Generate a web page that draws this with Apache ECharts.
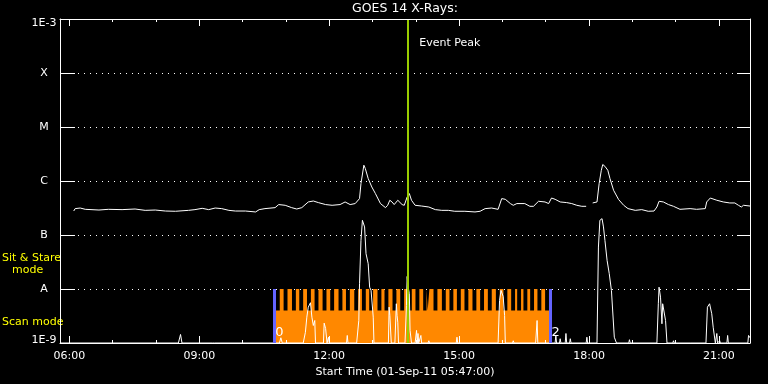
<!DOCTYPE html>
<html><head><meta charset="utf-8">
<script src="https://cdn.jsdelivr.net/npm/echarts@6/dist/echarts.min.js"></script>
<style>html,body{margin:0;padding:0;background:#000}#c{width:768px;height:384px}</style>
</head><body><div id="c"></div>
<script>
// ---------------- data ----------------
const chartTitle = 'GOES 14 X-Rays:';
const xAxisName = 'Start Time (01-Sep-11 05:47:00)';
const axisStart = '05:47';
const axisEnd = '21:43';
const majorTickLabels = ['06:00','09:00','12:00','15:00','18:00','21:00'];
const minorTickTimes = ['06:00','07:00','08:00','09:00','10:00','11:00','12:00','13:00','14:00','15:00','16:00','17:00','18:00','19:00','20:00','21:00'];
const levelValues = [1e-9,1e-8,1e-7,1e-6,1e-5,1e-4,1e-3];
const levelLabels = ['1E-9','A','B','C','M','X','1E-3'];

// GOES long channel (upper white curve): [time, flux W/m^2]
const longChannel = [
['06:06',2.78e-7],['06:08',3.08e-7],['06:15',3.16e-7],['06:22',2.99e-7],['06:41',2.90e-7],['06:54',2.99e-7],
['07:13',2.95e-7],['07:31',3.03e-7],['07:45',2.86e-7],['07:59',2.90e-7],['08:13',2.78e-7],['08:27',2.75e-7],
['08:45',2.86e-7],['08:54',2.95e-7],['09:04',3.12e-7],['09:13',2.95e-7],['09:22',3.16e-7],['09:31',3.08e-7],
['09:41',2.86e-7],['09:50',2.78e-7],['10:04',2.78e-7],['10:18',2.67e-7],['10:23',2.95e-7],['10:31',3.08e-7],
['10:45',3.21e-7],['10:50',3.66e-7],['10:59',3.55e-7],['11:08',3.21e-7],['11:15',3.03e-7],['11:22',3.21e-7],
['11:31',4.09e-7],['11:38',4.26e-7],['11:45',3.98e-7],['11:55',3.66e-7],['12:04',3.55e-7],['12:15',3.66e-7],
['12:22',4.09e-7],['12:29',3.66e-7],['12:36',3.82e-7],['12:42',4.72e-7],['12:44',8.98e-7],['12:48',1.96e-6],
['12:50',1.70e-6],['12:54',1.11e-6],['12:59',7.75e-7],['13:04',5.85e-7],['13:11',3.82e-7],['13:18',3.21e-7],
['13:21',3.55e-7],['13:24',4.40e-7],['13:27',4.09e-7],['13:30',3.66e-7],['13:35',4.40e-7],['13:41',3.66e-7],
['13:44',3.55e-7],['13:48',5.06e-7],['13:51',5.85e-7],['13:54',4.40e-7],['13:59',3.55e-7],['14:08',3.44e-7],
['14:18',3.30e-7],['14:27',2.95e-7],['14:36',2.86e-7],['14:45',2.86e-7],['14:54',2.75e-7],['15:08',2.75e-7],
['15:22',2.67e-7],['15:29',2.75e-7],['15:36',3.08e-7],['15:45',3.16e-7],['15:54',2.99e-7],['15:59',4.72e-7],
['16:04',4.58e-7],['16:11',3.82e-7],['16:15',3.55e-7],['16:20',3.82e-7],['16:31',3.82e-7],['16:38',3.40e-7],
['16:43',3.40e-7],['16:50',4.21e-7],['16:59',4.09e-7],['17:04',3.82e-7],['17:08',4.84e-7],['17:13',4.58e-7],
['17:20',4.09e-7],['17:29',3.98e-7],['17:36',3.82e-7],['17:43',3.55e-7],['17:50',3.40e-7],['17:56',3.40e-7],
['18:00',null],
['18:05',3.92e-7],['18:11',4.09e-7],['18:14',8.98e-7],['18:17',1.58e-6],['18:19',2.02e-6],['18:22',1.87e-6],
['18:26',1.58e-6],['18:29',1.11e-6],['18:34',6.73e-7],['18:41',4.53e-7],['18:48',3.55e-7],['18:54',3.08e-7],
['19:04',2.86e-7],['19:13',2.95e-7],['19:22',2.75e-7],['19:30',2.78e-7],['19:34',3.30e-7],['19:37',4.21e-7],
['19:43',4.09e-7],['19:50',3.66e-7],['19:57',3.40e-7],['20:06',2.99e-7],['20:20',3.08e-7],['20:29',2.99e-7],
['20:41',3.08e-7],['20:43',4.09e-7],['20:48',4.84e-7],['20:57',4.40e-7],['21:06',4.09e-7],['21:15',3.92e-7],
['21:22',3.92e-7],['21:27',3.55e-7],['21:31',3.30e-7],['21:34',3.55e-7],['21:43',3.44e-7]
];

// GOES short channel (lower white curve), floored at 1E-9
const shortChannel = [
['05:47',1e-9],['08:31',1e-9],['08:34',1.44e-9],['08:36',1e-9],
['09:18',1e-9],['09:19',1.07e-9],['09:21',1e-9],
['10:51',1e-9],['10:53',1.25e-9],['10:55',1e-9],
['10:58',1e-9],['10:59',1.07e-9],['11:00',1e-9],
['11:24',1e-9],['11:27',1.58e-9],['11:29',3.01e-9],['11:31',4.61e-9],['11:34',5.57e-9],['11:36',3.01e-9],['11:38',2.11e-9],['11:40',2.61e-9],['11:41',1e-9],
['11:52',1e-9],['11:53',2.33e-9],['11:55',1.86e-9],['11:57',1e-9],
['11:58',1e-9],['11:59',1.28e-9],['12:00',1e-9],
['12:24',1e-9],['12:25',1.38e-9],['12:26',1e-9],
['12:38',1e-9],['12:41',2.61e-9],['12:42',1.25e-8],['12:44',7.96e-8],['12:46',1.87e-7],['12:47',1.95e-7],['12:49',1.41e-7],['12:51',4.51e-8],['12:54',2.94e-8],['12:56',1.08e-8],['12:58',9.41e-9],['13:01',3.01e-9],['13:02',1e-9],
['13:22',1e-9],['13:23',4.61e-9],['13:24',3.24e-9],['13:26',1e-9],
['13:31',1e-9],['13:33',5.33e-9],['13:34',3.24e-9],['13:35',2.43e-9],['13:36',1e-9],
['13:45',1e-9],['13:47',4.96e-9],['13:48',1.71e-8],['13:49',1.16e-8],['13:51',8.17e-9],['13:52',1.71e-9],['13:54',1e-9],
['13:59',1e-9],['14:01',1.71e-9],['14:02',1e-9],['14:03',1.5e-9],['14:04',1e-9],['14:06',1e-9],['14:07',1.38e-9],['14:08',1e-9],
['14:17',1e-9],['14:18',1.1e-9],['14:19',1e-9],
['14:56',1e-9],['14:57',1.28e-9],['14:58',1e-9],
['15:54',1e-9],['15:56',6.14e-9],['15:58',9.41e-9],['15:59',1.01e-8],['16:01',7.28e-9],['16:03',3.24e-9],['16:04',1e-9],
['16:14',1e-9],['16:15',1.1e-9],['16:16',1e-9],
['16:46',1e-9],['16:48',2.61e-9],['16:49',1e-9],
['17:13',1e-9],['17:14',1.38e-9],['17:15',1e-9],
['17:19',1e-9],['17:20',1.2e-9],['17:21',1e-9],
['17:27',1e-9],['17:28',1.5e-9],['17:29',1e-9],
['17:33',1e-9],['17:34',1.2e-9],['17:35',1e-9],
['17:56',1e-9],['17:57',1.28e-9],['17:58',1e-9],
['18:11',1e-9],['18:13',5.98e-8],['18:15',1.87e-7],['18:18',2.01e-7],['18:20',1.41e-7],['18:22',7.96e-8],['18:25',3.39e-8],['18:28',1.92e-8],['18:31',9.41e-9],['18:35',1.28e-9],['18:38',1e-9],
['18:55',1e-9],['18:56',1.15e-9],['18:57',1e-9],
['19:34',1e-9],['19:36',5.33e-9],['19:37',1.08e-8],['19:39',7.07e-9],['19:41',2.27e-9],['19:42',5.33e-9],['19:44',5.33e-9],['19:46',2.61e-9],['19:48',1e-9],
['19:56',1e-9],['19:57',1.1e-9],['19:58',1e-9],
['20:20',1e-9],['20:21',1.07e-9],['20:22',1e-9],
['20:42',1e-9],['20:44',4.61e-9],['20:47',5.33e-9],['20:49',5.71e-9],['20:50',3.48e-9],['20:52',1.96e-9],['20:55',1e-9],
['20:57',1.5e-9],['20:58',1e-9],
['21:00',1e-9],['21:01',1.1e-9],['21:02',1e-9],
['21:11',1e-9],['21:12',1.38e-9],['21:13',1e-9],
['21:40',1e-9],['21:41',1.38e-9],['21:43',1.25e-9]
];

// Observing mode (orange): sit & stare vs scan, gaps = scan intervals
const scanStart = '10:44:00';
const scanEnd = '17:06:30';
const sitStareLevel = 1e-8;
const scanLevel = 4e-9;
const scanGaps = [
['10:44:00','10:51:30'],['10:56:48','11:02:12'],['11:08:24','11:13:48'],['11:18:30','11:23:54'],
['11:29:12','11:34:36'],['11:39:42','11:45:06'],['11:50:48','11:56:12'],['12:01:24','12:06:48'],
['12:12:54','12:18:18'],['12:23:12','12:28:36'],['12:34:42','12:40:06'],['12:45:18','12:50:42'],
['12:55:24','13:00:48'],['13:06:54','13:12:18'],['13:16:36','13:22:00'],['13:27:42','13:33:06'],
['13:38:24','13:43:48'],['13:49:00','13:54:24'],['13:59:30','14:04:54'],['14:10:12','14:14:48'],
['14:16:24','14:18:48'],['14:24:30','14:29:54'],['14:36:06','14:41:30'],['14:46:36','14:52:00'],
['14:56:54','15:02:18'],['15:07:24','15:12:48'],['15:18:30','15:23:54'],['15:29:06','15:34:30'],
['15:39:48','15:45:12'],['15:50:54','15:56:18'],['16:01:24','16:06:48'],['16:12:06','16:17:30'],
['16:20:24','16:25:48'],['16:29:06','16:34:30'],['16:38:24','16:43:48'],['16:48:30','16:53:54'],
['16:59:06','17:04:30']
];
const scanMarkers = ['0','2'];
const eventPeak = '13:49:30';
const eventLabel = 'Event Peak';
const modeLabelSit = ['Sit & Stare', 'mode'];
const modeLabelScan = 'Scan mode';

// ---------------- helpers ----------------
const toMin = s => { const p = s.split(':').map(Number); return p[0]*60 + p[1] + (p[2]||0)/60; };
const fmtTime = m => { const h = Math.floor(m/60 + 1e-6), mm = Math.round(m - h*60); return String(h).padStart(2,'0') + ':' + String(mm).padStart(2,'0'); };
const FONT = 'DejaVu Sans';
const WHITE = '#ffffff';

const xMin = toMin(axisStart), xMax = toMin(axisEnd);
const majors = majorTickLabels.map(toMin);
const minors = minorTickTimes.map(toMin);

const longData = longChannel.map(d => [toMin(d[0]), d[1]]);
const shortData = shortChannel.map(d => [toMin(d[0]), d[1]]);

const modeData = [];
scanGaps.forEach(g => {
  modeData.push([toMin(g[0]), scanLevel]);
  modeData.push([toMin(g[1]), sitStareLevel]);
});
modeData.push([toMin(scanEnd), sitStareLevel]);

const levelLabel = v => {
  const e = Math.round(Math.log10(v));
  const i = levelValues.findIndex(x => Math.round(Math.log10(x)) === e);
  if (i < 0) return '';
  if (i === 0) return '{lo|' + levelLabels[i] + '}';
  if (i === levelValues.length - 1) return '{hi|' + levelLabels[i] + '}';
  return levelLabels[i];
};

function xAx(pos, ticks, len, showLine, extra) {
  return Object.assign({
    type: 'value', position: pos, min: xMin, max: xMax,
    axisLine: { show: showLine, lineStyle: { color: WHITE, width: 1 } },
    axisTick: { show: true, inside: true, length: len, customValues: ticks, lineStyle: { color: WHITE, width: 1 } },
    axisLabel: { show: false },
    splitLine: { show: false },
    z: 5
  }, extra || {});
}

const option = {
  backgroundColor: '#000000',
  animation: false,
  title: {
    text: chartTitle, left: 405, top: 2, textAlign: 'center', padding: 0,
    textStyle: { color: WHITE, fontFamily: FONT, fontSize: 12.5, fontWeight: 'normal' }
  },
  grid: { left: 60, right: 18, top: 19, bottom: 41 },
  xAxis: [
    xAx('bottom', majors, 7, true, {
      axisLabel: { show: true, customValues: majors, formatter: v => fmtTime(v), color: WHITE, fontFamily: FONT, fontSize: 11, margin: 8 },
      name: xAxisName, nameLocation: 'middle', nameGap: 21,
      nameTextStyle: { color: WHITE, fontFamily: FONT, fontSize: 11 }
    }),
    xAx('bottom', minors, 3, false),
    xAx('top', majors, 7, true),
    xAx('top', minors, 3, false)
  ],
  yAxis: [
    {
      type: 'log', logBase: 10, min: 1e-9, max: 1e-3, interval: 1, splitNumber: 6, position: 'left',
      axisLine: { show: true, lineStyle: { color: WHITE, width: 1 } },
      axisTick: { show: true, inside: true, length: 15, lineStyle: { color: WHITE } },
      axisLabel: { show: true, formatter: levelLabel, color: WHITE, fontFamily: FONT, fontSize: 11, align: 'center', margin: 16,
        verticalAlign: 'middle',
        rich: {
          lo: { color: WHITE, fontFamily: FONT, fontSize: 11, padding: [0, 0, 6, 0] },
          hi: { color: WHITE, fontFamily: FONT, fontSize: 11, padding: [8, 0, 0, 0] }
        } },
      splitLine: { show: true, lineStyle: { color: WHITE, width: 1, type: [1, 5] } },
      minorTick: { show: false }
    },
    {
      type: 'log', logBase: 10, min: 1e-9, max: 1e-3, interval: 1, splitNumber: 6, position: 'right',
      axisLine: { show: true, lineStyle: { color: WHITE, width: 1 } },
      axisTick: { show: true, inside: true, length: 13, lineStyle: { color: WHITE } },
      axisLabel: { show: false },
      splitLine: { show: false }
    }
  ],
  graphic: [
    { type: 'text', left: 2, top: 253, style: { text: modeLabelSit[0], fill: '#ffff00', font: '11px "DejaVu Sans"' } },
    { type: 'text', left: 12, top: 265, style: { text: modeLabelSit[1], fill: '#ffff00', font: '11px "DejaVu Sans"' } },
    { type: 'text', left: 2, top: 317, style: { text: modeLabelScan, fill: '#ffff00', font: '11px "DejaVu Sans"' } }
  ],
  series: [
    {
      name: 'mode', type: 'line', xAxisIndex: 0, yAxisIndex: 0, step: 'end', symbol: 'none', silent: true,
      data: modeData,
      lineStyle: { width: 0, opacity: 0 },
      areaStyle: { color: '#ff8800', opacity: 1, origin: 'start' },
      markLine: {
        silent: true, symbol: 'none', label: { show: false },
        lineStyle: { color: '#6464ff', width: 3, type: 'solid' },
        data: [
          [{ coord: [toMin(scanStart), 1e-9] }, { coord: [toMin(scanStart), sitStareLevel] }],
          [{ coord: [toMin(scanEnd), 1e-9] }, { coord: [toMin(scanEnd), sitStareLevel] }]
        ]
      },
      markPoint: {
        silent: true, symbol: 'rect', symbolSize: 0,
        label: { show: true, position: [1, -17], color: WHITE, fontFamily: FONT, fontSize: 13, formatter: p => p.name },
        data: [
          { name: scanMarkers[0], coord: [toMin(scanStart), 1e-9] },
          { name: scanMarkers[1], coord: [toMin(scanEnd), 1e-9] }
        ]
      }
    },
    {
      name: 'short', type: 'line', xAxisIndex: 0, yAxisIndex: 0, symbol: 'none', silent: true,
      data: shortData, lineStyle: { color: WHITE, width: 1 }
    },
    {
      name: 'long', type: 'line', xAxisIndex: 0, yAxisIndex: 0, symbol: 'none', silent: true, connectNulls: false,
      data: longData, lineStyle: { color: WHITE, width: 1 },
      markLine: {
        silent: true, symbol: 'none', label: { show: false },
        lineStyle: { color: '#99cc00', width: 2, type: 'solid' },
        data: [{ xAxis: toMin(eventPeak) }]
      },
      markPoint: {
        silent: true, symbol: 'rect', symbolSize: 0,
        label: { show: true, position: [11, 19], color: WHITE, fontFamily: FONT, fontSize: 11, formatter: () => eventLabel },
        data: [{ coord: [toMin(eventPeak), 1e-3] }]
      }
    }
  ]
};

const chart = echarts.init(document.getElementById('c'), null, { renderer: 'canvas' });
chart.setOption(option);
</script>
</body></html>
